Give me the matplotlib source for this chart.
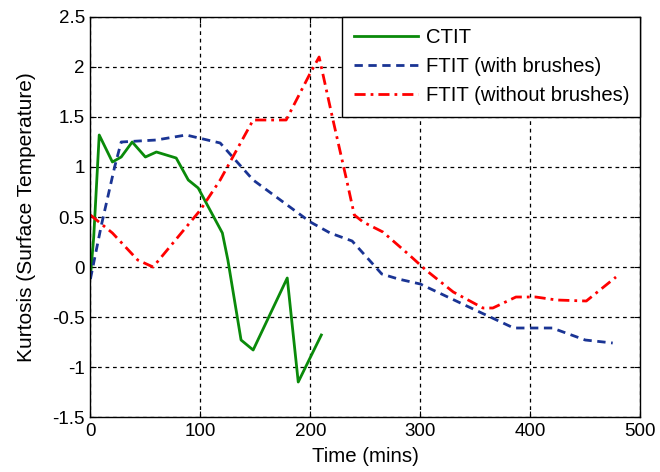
import matplotlib
matplotlib.use("Agg")
import matplotlib.pyplot as plt

plt.rcParams['font.family'] = ['Liberation Sans', 'DejaVu Sans']

ctit_t = [0, 3, 8, 20, 28, 38, 50, 60, 78, 89, 98, 120, 125, 137, 148, 179, 189, 210]
ctit_k = [-0.1, 0.3, 1.32, 1.05, 1.1, 1.25, 1.1, 1.15, 1.09, 0.87, 0.79, 0.34, 0.07,
          -0.73, -0.83, -0.11, -1.15, -0.68]

brush_t = [0, 10, 22, 28, 60, 87, 118, 148, 200, 218, 238, 265, 280, 300, 350, 385, 420, 450, 475]
brush_k = [-0.12, 0.42, 1.0, 1.25, 1.27, 1.32, 1.24, 0.87, 0.45, 0.34, 0.26, -0.07, -0.12,
           -0.17, -0.43, -0.61, -0.61, -0.73, -0.76]

nobrush_t = [0, 20, 43, 57, 100, 118, 148, 178, 200, 208, 220, 233, 240, 248, 266, 290, 305,
             330, 357, 366, 387, 405, 424, 451, 460, 478]
nobrush_k = [0.52, 0.34, 0.07, 0.0, 0.57, 0.87, 1.47, 1.47, 1.94, 2.1, 1.5, 0.87, 0.52, 0.45,
             0.35, 0.12, -0.03, -0.25, -0.41, -0.41, -0.3, -0.3, -0.33, -0.34, -0.26, -0.1]

labels = ['CTIT', 'FTIT (with brushes)', 'FTIT (without brushes)']
xticks = [0, 100, 200, 300, 400, 500]
yticks = [-1.5, -1, -0.5, 0, 0.5, 1, 1.5, 2, 2.5]

fig = plt.figure(figsize=(6.6, 4.72), dpi=100)
ax = fig.add_axes([0.137, 0.1165, 0.833, 0.8475])

ax.plot(ctit_t, ctit_k, '-', color='#0a8a0a', lw=2.0, label=labels[0])
ax.plot(brush_t, brush_k, '--', color='#1a3494', lw=2.0, dashes=(3, 2), label=labels[1])
ax.plot(nobrush_t, nobrush_k, '-.', color='#ff0000', lw=2.0, dashes=(4, 1.8, 1, 1.8), label=labels[2])

ax.set_xlim(0, 500)
ax.set_ylim(-1.5, 2.5)
ax.set_xticks(xticks)
ax.set_xticklabels([str(v) for v in xticks])
ax.set_yticks(yticks)
ax.set_yticklabels([('%g' % v) for v in yticks])
ax.grid(True, color='black', linestyle=(0, (3, 3)), lw=0.9)
ax.tick_params(direction='in', length=4, labelsize=13.5, top=True, right=True, pad=4)
for s in ax.spines.values():
    s.set_linewidth(1.0)

ax.set_xlabel('Time (mins)', fontsize=14.7, labelpad=5)
ax.set_ylabel('Kurtosis (Surface Temperature)', fontsize=15, labelpad=12)

leg = ax.legend(loc='upper right', fontsize=14.6, frameon=True, fancybox=False,
                borderaxespad=0, handlelength=3.2, handletextpad=0.35,
                labelspacing=0.5, borderpad=0.55)
leg.get_frame().set_edgecolor('black')
leg.get_frame().set_linewidth(1.0)
leg.get_frame().set_alpha(1)

fig.savefig('out.png', dpi=100)
